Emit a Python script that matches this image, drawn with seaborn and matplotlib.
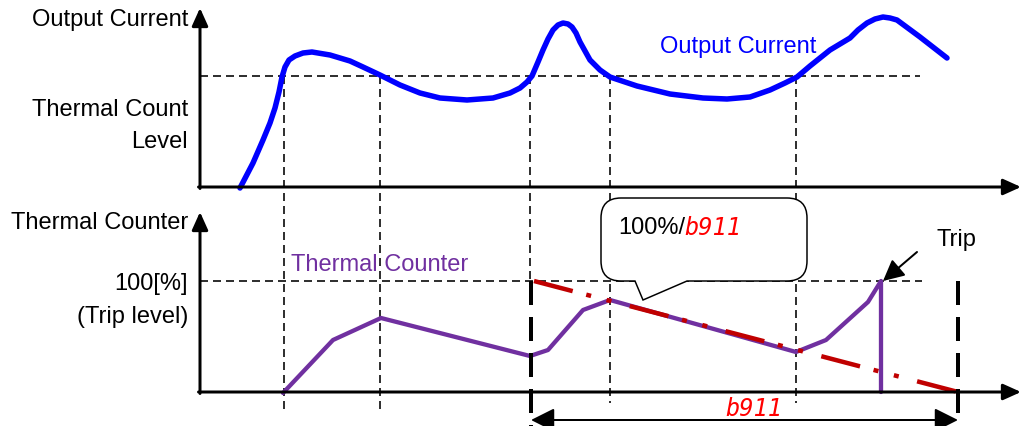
import numpy as np
import pandas as pd
import matplotlib
matplotlib.use("Agg")
import matplotlib.pyplot as plt
import seaborn as sns
from matplotlib.path import Path
from matplotlib.patches import PathPatch

# ------------------ DATA ------------------
# diagram units: x = time (px), y = screen height (px, 0 at top)
CURRENT_T = [240, 253, 263, 270, 275, 279, 282, 285, 289, 295, 303, 312, 330, 350, 363, 380,
             400, 420, 440, 467, 493, 510, 520, 527, 532, 538, 543, 548, 553, 558, 563,
             568, 572, 576, 580, 590, 600, 610, 637, 670, 703, 727, 750, 770, 785, 797,
             810, 820, 830, 850, 858, 867, 875, 883, 890, 897, 920, 947]
CURRENT_Y = [188, 163, 140, 123, 108, 92, 77, 67, 60, 56, 53, 52, 55, 61, 67, 75,
             85, 93, 98, 100, 98, 93, 88, 82, 76, 62, 50, 39, 30, 25, 23,
             24, 27, 33, 42, 60, 70, 77, 86, 94, 98, 99, 97, 90, 83, 77,
             66, 58, 50, 38, 30, 23, 19, 17, 18, 20, 37, 58]

COUNTER_T = [283, 333, 381, 530, 548, 583, 610, 796, 826, 868, 881, 881]
COUNTER_Y = [393, 340, 318, 356, 350, 310, 300, 352, 340, 302, 281, 392]

DECAY_T = [534, 958]
DECAY_Y = [281, 392]

EVENT_T = [284, 380, 530, 610, 796]
EVENT_END = [413, 413, 281, 403, 403]
TRIP_T = 958

# ------------------ STYLE ------------------
BLUE = "#0000FF"
PURPLE = "#7030A0"
DARK_RED = "#C00000"
RED = "#FF0000"
PX = 72 / 100  # points per pixel

TOP_BASE, LOW_BASE = 187, 392
LEVEL_Y, TRIP_Y = 76, 281
AXIS_X = 200

sns.set_style("white")
plt.rcParams["font.family"] = ["Liberation Sans", "DejaVu Sans"]
plt.rcParams["text.color"] = "black"
plt.rcParams["lines.scale_dashes"] = False

fig = plt.figure(figsize=(10.21, 4.26), dpi=100)
ax = fig.add_axes([0, 0, 1, 1])

# thin dashed guide lines
thin = dict(color="black", lw=1.6 * PX, dashes=(8 * PX, 5 * PX), zorder=1)
ax.plot([AXIS_X, 920], [LEVEL_Y, LEVEL_Y], **thin)
ax.plot([AXIS_X, 922], [TRIP_Y, TRIP_Y], **thin)
for t, end in zip(EVENT_T, EVENT_END):
    ax.plot([t, t], [LEVEL_Y, end], **thin)

# thick dashed lines marking b911 span
thick = dict(color="black", lw=4 * PX, dashes=(24 * PX, 12 * PX), zorder=6)
ax.plot([EVENT_T[2] + 1, EVENT_T[2] + 1], [TRIP_Y, 426], **thick)
ax.plot([TRIP_T, TRIP_T], [TRIP_Y, 413], **thick)

# curves
cur = pd.DataFrame({"t": CURRENT_T, "y": CURRENT_Y})
sns.lineplot(data=cur, x="t", y="y", sort=False, estimator=None, color=BLUE,
             lw=5.5 * PX, ax=ax, zorder=3, solid_joinstyle="round")
cnt = pd.DataFrame({"t": COUNTER_T, "y": COUNTER_Y})
sns.lineplot(data=cnt, x="t", y="y", sort=False, estimator=None, color=PURPLE,
             lw=4.3 * PX, ax=ax, zorder=3)
ax.plot(DECAY_T, DECAY_Y, color=DARK_RED, lw=4.5 * PX, zorder=4,
        dashes=(40 * PX, 14 * PX, 5 * PX, 16 * PX, 5 * PX, 19 * PX))

# axes with arrowheads
ax_arrow = dict(arrowstyle="-|>,head_length=0.6,head_width=0.27", color="black",
                lw=3 * PX, mutation_scale=18, shrinkA=0, shrinkB=0)
for base, top in [(TOP_BASE, 8), (LOW_BASE, 212)]:
    ax.annotate("", xy=(AXIS_X, top), xytext=(AXIS_X, base + 1.5), arrowprops=ax_arrow, zorder=5)
    ax.annotate("", xy=(1021, base), xytext=(AXIS_X - 1.5, base), arrowprops=ax_arrow, zorder=5)

# b911 span arrow
ax.annotate("", xy=(TRIP_T, 420), xytext=(EVENT_T[2] + 1, 420),
            arrowprops=dict(arrowstyle="<|-|>,head_length=0.8,head_width=0.4", color="black",
                            lw=2 * PX, mutation_scale=18, shrinkA=0, shrinkB=0), zorder=5)

# trip arrow
ax.annotate("", xy=(883, 281), xytext=(917, 252),
            arrowprops=dict(arrowstyle="-|>,head_length=0.8,head_width=0.4", color="black",
                            lw=2 * PX, mutation_scale=16, shrinkA=0, shrinkB=0), zorder=5)

# speech bubble
L, R, T, B, r = 601, 807, 198, 281, 20
verts = [(L + r, T), (R - r, T), (R, T), (R, T + r), (R, B - r), (R, B), (R - r, B),
         (687, B), (643, 300), (635, B), (L + r, B), (L, B), (L, B - r), (L, T + r),
         (L, T), (L + r, T), (L + r, T)]
codes = [Path.MOVETO, Path.LINETO, Path.CURVE3, Path.CURVE3, Path.LINETO, Path.CURVE3,
         Path.CURVE3, Path.LINETO, Path.LINETO, Path.LINETO, Path.LINETO, Path.CURVE3,
         Path.CURVE3, Path.LINETO, Path.CURVE3, Path.CURVE3, Path.CLOSEPOLY]
ax.add_patch(PathPatch(Path(verts, codes), facecolor="white", edgecolor="black",
                       lw=1.5 * PX, zorder=7))

# texts
fs = 17
ax.text(188, 20, "Output Current", ha="right", va="center", fontsize=fs)
ax.text(188, 110, "Thermal Count", ha="right", va="center", fontsize=fs)
ax.text(188, 142, "Level", ha="right", va="center", fontsize=fs)
ax.text(188, 223, "Thermal Counter", ha="right", va="center", fontsize=fs)
ax.text(188, 284, "100[%]", ha="right", va="center", fontsize=fs)
ax.text(188, 317, "(Trip level)", ha="right", va="center", fontsize=fs)
ax.text(660, 47, "Output Current", ha="left", va="center", fontsize=fs, color=BLUE)
ax.text(291, 265, "Thermal Counter", ha="left", va="center", fontsize=fs, color=PURPLE)
ax.text(936, 240, "Trip", ha="left", va="center", fontsize=fs)
ax.text(618, 228, "100%/", ha="left", va="center", fontsize=fs, zorder=8)
seg = dict(color=RED, fontsize=fs, style="italic", family=["DejaVu Sans Mono"], va="center")
ax.text(684, 228, "b911", ha="left", zorder=8, **seg)
ax.text(754, 409, "b911", ha="center", zorder=8, **seg)

ax.set_xlim(0, 1021)
ax.set_ylim(426, 0)
ax.set_axis_off()

fig.savefig("out.png", dpi=100)
